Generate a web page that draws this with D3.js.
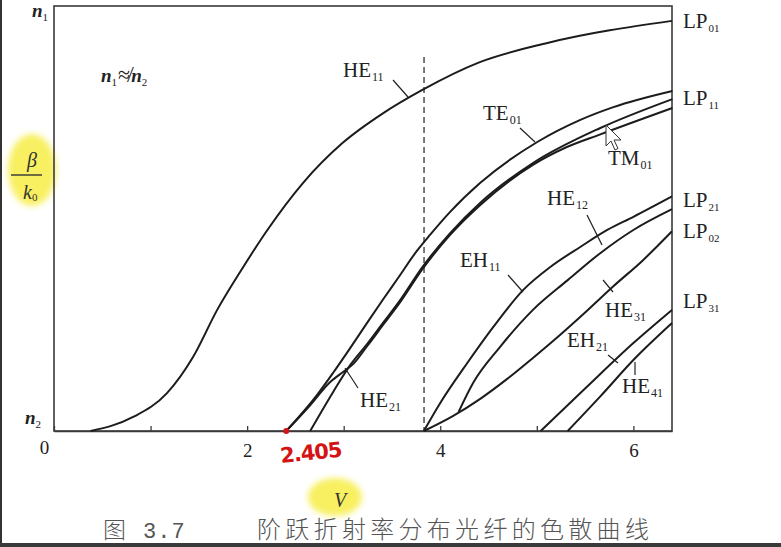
<!DOCTYPE html>
<html><head><meta charset="utf-8">
<script src="https://cdn.jsdelivr.net/npm/d3@7/dist/d3.min.js"></script>
<style>body{margin:0;background:#fff}svg{display:block}</style>
</head><body>
<script>
// ---- data (V, normalized b = (β/k0 - n2)/(n1 - n2)) ----
const xTicks = [0,1,2,3,4,5,6];
const xTickLabels = ["0","","2","","4","","6"];
const cutoffDashed = 3.832;

const HE11_V = [0.38,0.82,1.17,1.44,1.69,1.96,2.21,2.58,2.99,3.41,3.81,4.41,5.11,6.40];
const HE11_b = [0,0.033,0.089,0.174,0.285,0.386,0.473,0.584,0.678,0.748,0.802,0.868,0.913,0.965];

const TE01_V = [2.405,2.725,2.891,3.067,3.244,3.409,3.554,3.762,3.896,4.10,4.415,5.005,5.451,5.793,6.404];
const TE01_b = [0,0.085,0.137,0.195,0.255,0.310,0.357,0.425,0.462,0.515,0.584,0.680,0.732,0.762,0.800];

const TM01_V = [2.405,2.65,2.85,3.0,3.10,3.244,3.409,3.585,3.813,4.10,4.415,4.964,5.30,5.658,6.404];
const TM01_b = [0,0.06,0.113,0.140,0.158,0.200,0.250,0.303,0.380,0.461,0.532,0.627,0.667,0.698,0.760];

const HE21_V = [2.653,2.891,3.067,3.244,3.409,3.585,3.813,4.10,4.415,4.964,5.658,6.404];
const HE21_b = [0,0.092,0.155,0.205,0.255,0.308,0.385,0.465,0.537,0.631,0.713,0.781];

const EH11_V = [3.83,4.00,4.28,4.55,4.86,5.14,5.45,5.73,6.00,6.40];
const EH11_b = [0,0.066,0.160,0.245,0.332,0.386,0.433,0.473,0.504,0.552];

const HE12_V = [4.19,4.34,4.62,4.96,5.32,5.66,6.00,6.40];
const HE12_b = [0.045,0.113,0.198,0.285,0.355,0.419,0.473,0.522];

const HE31_V = [3.83,4.13,4.41,4.69,4.96,5.24,5.52,5.79,6.10,6.40];
const HE31_b = [0,0.035,0.075,0.122,0.172,0.226,0.283,0.340,0.402,0.470];

const EH21_V = [5.04,5.50,6.00,6.40];
const EH21_b = [0,0.100,0.207,0.285];

const HE41_V = [5.32,5.66,6.00,6.40];
const HE41_b = [0,0.082,0.167,0.254];

const curveNames = ["HE11","TE01","TM01","HE21","EH11","HE12","HE31","EH21","HE41"];
const curveV = [HE11_V,TE01_V,TM01_V,HE21_V,EH11_V,HE12_V,HE31_V,EH21_V,HE41_V];
const curveB = [HE11_b,TE01_b,TM01_b,HE21_b,EH11_b,HE12_b,HE31_b,EH21_b,HE41_b];

const lpLabels = ["01","11","21","02","31"];

// ---- drawing ----
const W = 781, H = 547;
const svg = d3.select("body").append("svg").attr("width", W).attr("height", H);
const defs = svg.append("defs");
defs.append("filter").attr("id","soft").append("feGaussianBlur").attr("stdDeviation",3);

const x = d3.scaleLinear().domain([0,6.4]).range([54,672]);
const y = d3.scaleLinear().domain([0,1]).range([431,6]);

// yellow highlights
svg.append("ellipse").attr("cx",32).attr("cy",170).attr("rx",24).attr("ry",36)
  .attr("fill","#f8f060").attr("filter","url(#soft)");
svg.append("ellipse").attr("cx",335).attr("cy",497).attr("rx",27).attr("ry",19)
  .attr("fill","#f8f060").attr("filter","url(#soft)");

// frame
svg.append("rect").attr("x",x(0)).attr("y",y(1)).attr("width",x(6.4)-x(0)).attr("height",y(0)-y(1))
  .attr("fill","none").attr("stroke","#3a3a3a").attr("stroke-width",1.6);

// x axis
const xAxis = d3.axisBottom(x).tickValues(xTicks).tickFormat((d,i)=>xTickLabels[i])
  .tickSizeInner(-5).tickSizeOuter(0).tickPadding(13);
const gx = svg.append("g").attr("transform",`translate(0,${y(0)})`).call(xAxis);
gx.select(".domain").attr("stroke","#3a3a3a").attr("stroke-width",1.6);
gx.selectAll(".tick line").attr("stroke","#3a3a3a").attr("stroke-width",1.3);
gx.selectAll(".tick text").attr("font-family","'Liberation Serif', serif").attr("font-size",19).attr("fill","#222");
gx.selectAll(".tick text").filter(d=>d===0).attr("dx",-10).attr("dy","0.55em");

// dashed line
svg.append("line").attr("x1",x(cutoffDashed)).attr("x2",x(cutoffDashed))
  .attr("y1",57).attr("y2",y(0)).attr("stroke","#333").attr("stroke-width",1.3)
  .attr("stroke-dasharray","6,4");

// curves
const line = d3.line().x(d=>x(d[0])).y(d=>y(d[1])).curve(d3.curveMonotoneX);
curveNames.forEach((n,i)=>{
  const pts = curveV[i].map((v,j)=>[v,curveB[i][j]]);
  svg.append("path").attr("d",line(pts)).attr("fill","none")
    .attr("stroke","#1c1c1c").attr("stroke-width",2.0).attr("stroke-linejoin","round");
});

// labels helper
const serif = "'Liberation Serif','Times New Roman',serif";
function label(txt, sub, px, py, fs=21, subfs=12){
  const t = svg.append("text").attr("x",px).attr("y",py).attr("font-family",serif)
    .attr("font-size",fs).attr("fill","#222");
  t.append("tspan").text(txt);
  t.append("tspan").attr("font-size",subfs).attr("dy",4).attr("dx",1).text(sub);
  return t;
}
function leader(x1,y1,x2,y2){
  svg.append("line").attr("x1",x1).attr("y1",y1).attr("x2",x2).attr("y2",y2)
    .attr("stroke","#222").attr("stroke-width",1.2);
}
label("HE","11",343,77); leader(393,80,408,97);
label("TE","01",483,120); leader(520,128,535,142);
label("TM","01",608,165);
label("HE","12",547,205); leader(587,215,602,245);
label("EH","11",460,267); leader(508,275,523,292);
label("HE","31",605,317); leader(603,280,613,292);
label("EH","21",567,347); leader(608,355,618,363);
label("HE","41",622,393); leader(635,362,635,375);
label("HE","21",360,407); leader(345,368,358,388);

const lpY = [28,105,207,238,308];
lpLabels.forEach((s,i)=>label("LP",s,683,lpY[i],21,11));

// n1 / n2 labels
function italicN(sub, px, py, fs=19){
  const t = svg.append("text").attr("x",px).attr("y",py).attr("font-family",serif)
    .attr("font-size",fs).attr("font-style","italic").attr("font-weight","bold").attr("fill","#222");
  t.append("tspan").text("n");
  t.append("tspan").attr("font-size",11).attr("font-weight","normal").attr("font-style","normal").attr("dy",4).text(sub);
}
italicN("1",32,17);
italicN("2",25,424);
{
  const t = svg.append("text").attr("x",101).attr("y",82).attr("font-family",serif)
    .attr("font-size",19).attr("font-style","italic").attr("font-weight","bold").attr("fill","#222");
  t.append("tspan").text("n");
  t.append("tspan").attr("font-size",11).attr("font-weight","normal").attr("font-style","normal").attr("dy",4).text("1");
  t.append("tspan").attr("font-size",22).attr("font-weight","normal").attr("font-style","normal").attr("dy",-4).attr("dx",1).text("≉");
  t.append("tspan").attr("dx",1).text("n");
  t.append("tspan").attr("font-size",11).attr("font-weight","normal").attr("font-style","normal").attr("dy",4).text("2");
}

// β/k0
svg.append("text").attr("x",32).attr("y",167).attr("text-anchor","middle").attr("font-family",serif)
  .attr("font-size",20).attr("font-style","italic").attr("fill","#333").text("β");
svg.append("line").attr("x1",11).attr("x2",42).attr("y1",175).attr("y2",175).attr("stroke","#333").attr("stroke-width",1.4);
{
  const t = svg.append("text").attr("x",23).attr("y",199).attr("font-family",serif)
    .attr("font-size",20).attr("font-style","italic").attr("fill","#333");
  t.append("tspan").text("k");
  t.append("tspan").attr("font-size",11).attr("font-style","normal").attr("dy",2).text("0");
}

// V axis title
svg.append("text").attr("x",334).attr("y",507).attr("font-family",serif)
  .attr("font-size",20).attr("font-style","italic").attr("fill","#333").text("V");

// red annotation
svg.append("circle").attr("cx",x(2.405)).attr("cy",y(0)).attr("r",3).attr("fill","#d41414");
svg.append("text").attr("x",281).attr("y",463).attr("transform","rotate(-6,281,463)")
  .attr("font-family","'DejaVu Sans',sans-serif").attr("font-size",21).attr("font-weight","bold")
  .attr("fill","#d41414").attr("letter-spacing",-1).text("2.405");

// mouse cursor
svg.append("path").attr("d","M606,125 l0,21 l5,-5 l4,9 l3,-1.5 l-4,-8.5 l7,0 Z")
  .attr("fill","#fff").attr("stroke","#333").attr("stroke-width",1);

// caption
const cap = "'Noto Sans CJK SC','Noto Sans',sans-serif";
svg.append("text").attr("x",103).attr("y",538).attr("font-family",cap).attr("font-size",23)
  .attr("font-weight",300).attr("fill","#555").text("图");
svg.append("text").attr("x",143).attr("y",538).attr("font-family","'Liberation Mono',monospace").attr("font-size",22)
  .attr("fill","#555").attr("letter-spacing",1).text("3.7");
svg.append("text").attr("x",257).attr("y",538).attr("font-family",cap).attr("font-size",24)
  .attr("font-weight",300).attr("letter-spacing",4.3).attr("fill","#555").text("阶跃折射率分布光纤的色散曲线");

// screen edges
svg.append("rect").attr("x",0).attr("y",0).attr("width",2).attr("height",H).attr("fill","#333");
svg.append("rect").attr("x",0).attr("y",543).attr("width",W).attr("height",4).attr("fill","#3a3a3a");
</script>
</body></html>
